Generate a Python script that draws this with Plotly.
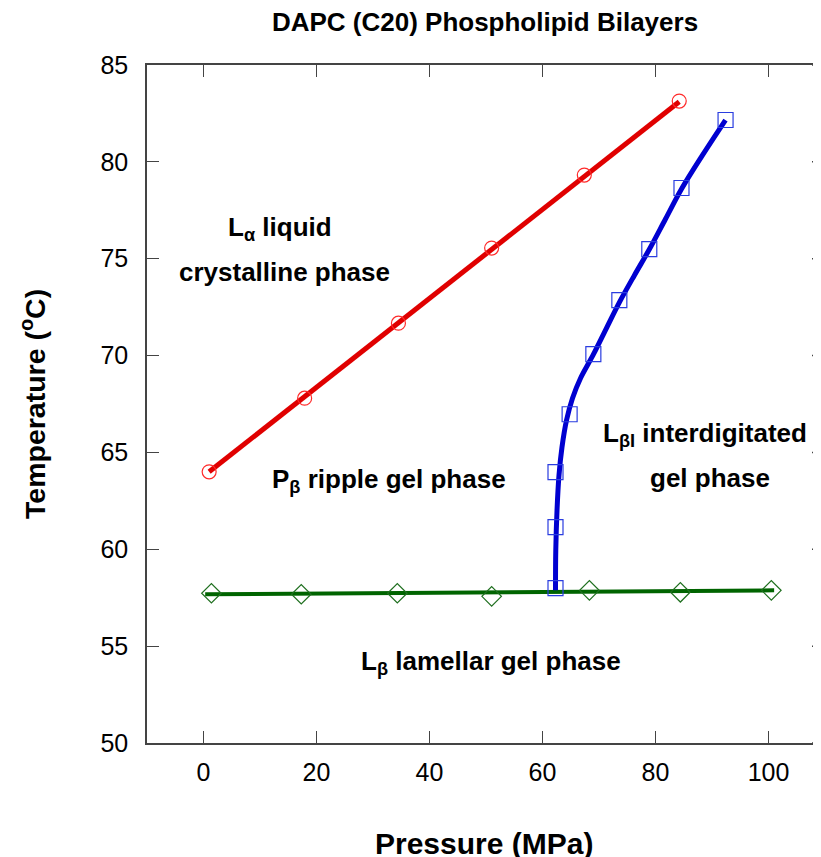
import plotly.graph_objects as go

# ---- data ----
# L_alpha -> P_beta transition (red circles)
red_p = [1.0, 17.9, 34.5, 51.0, 67.4, 84.2]
red_t = [64.0, 67.8, 71.67, 75.55, 79.32, 83.14]
red_fit_p = [1.0, 84.2]
red_fit_t = [64.0, 83.1]

# P_beta -> L_beta_I transition (blue squares)
blue_p = [62.3, 62.3, 62.3, 64.8, 69.0, 73.6, 78.9, 84.6, 92.4]
blue_t = [58.0, 61.14, 63.98, 66.97, 70.07, 72.86, 75.5, 78.65, 82.16]
blue_fit_p = [62.30, 62.35, 62.57, 62.92, 63.45, 64.25, 65.31, 66.73, 69.03, 71.33,
              73.63, 76.28, 78.94, 81.77, 84.60, 88.32, 92.39]
blue_fit_t = [57.88, 59.95, 62.01, 63.82, 65.27, 66.66, 67.80, 68.83, 70.07, 71.42,
              72.76, 74.15, 75.50, 77.05, 78.60, 80.35, 82.16]

# L_beta -> P_beta transition (green diamonds)
green_p = [1.4, 17.3, 34.3, 51.0, 68.3, 84.4, 100.5]
green_t = [57.73, 57.68, 57.73, 57.57, 57.88, 57.78, 57.88]
green_fit_p = [0.3, 101.0]
green_fit_t = [57.68, 57.88]

x_ticks = [0, 20, 40, 60, 80, 100]
y_ticks = [50, 55, 60, 65, 70, 75, 80, 85]

FONT = "Liberation Sans, Arial, sans-serif"

W, H = 813, 849
L, R, T, B = 139, 0, 57, 114
PW = W - L - R
PH = H - T - B

fig = go.Figure()

fig.add_trace(go.Scatter(x=green_fit_p, y=green_fit_t, mode="lines",
                         line=dict(color="#006400", width=4), showlegend=False))
fig.add_trace(go.Scatter(x=green_p, y=green_t, mode="markers",
                         marker=dict(symbol="diamond-open", size=15, color="#1f6f1f",
                                     line=dict(width=1.2, color="#1f6f1f")),
                         showlegend=False))

fig.add_trace(go.Scatter(x=red_fit_p, y=red_fit_t, mode="lines",
                         line=dict(color="#e00000", width=5), showlegend=False))
fig.add_trace(go.Scatter(x=red_p, y=red_t, mode="markers",
                         marker=dict(symbol="circle-open", size=14, color="#ff2a2a",
                                     line=dict(width=1.2, color="#ff2a2a")),
                         showlegend=False))

fig.add_trace(go.Scatter(x=blue_fit_p, y=blue_fit_t, mode="lines",
                         line=dict(color="#0000d0", width=5, shape="spline", smoothing=1.0),
                         showlegend=False))
fig.add_trace(go.Scatter(x=blue_p, y=blue_t, mode="markers",
                         marker=dict(symbol="square-open", size=15, color="#2a3de0",
                                     line=dict(width=1.2, color="#2a3de0")),
                         showlegend=False))

# mirrored y ticks on the right edge (the right frame line lies just outside the image)
for yt in y_ticks:
    fig.add_shape(type="line", xref="x domain", yref="y", x0=1 - 9 / PW, x1=1,
                  y0=yt, y1=yt, line=dict(color="#444444", width=1.5))

ann_font = dict(family=FONT, size=26, color="black")
annotations = [
    dict(x=13.6, y=76.58, text="<b>L<sub>α</sub> liquid</b>"),
    dict(x=14.3, y=74.31, text="<b>crystalline phase</b>"),
    dict(x=32.8, y=63.56, text="<b>P<sub>β</sub> ripple gel phase</b>"),
    dict(x=88.8, y=65.94, text="<b>L<sub>βI</sub> interdigitated</b>"),
    dict(x=89.6, y=63.67, text="<b>gel phase</b>"),
    dict(x=50.8, y=54.16, text="<b>L<sub>β</sub> lamellar gel phase</b>"),
]
for a in annotations:
    fig.add_annotation(xref="x", yref="y", showarrow=False, font=ann_font,
                       xanchor="center", yanchor="middle", **a)

# axis titles
fig.add_annotation(xref="paper", yref="paper", x=(476 - L) / PW, y=-100 / PH,
                   text="<b>Pressure (MPa)</b>", showarrow=False,
                   font=dict(family=FONT, size=30, color="black"),
                   xanchor="center", yanchor="middle")
fig.add_annotation(xref="paper", yref="paper", x=(25 - L) / PW, y=0.5,
                   text="<b>Temperature (<sup>o</sup>C)</b>", showarrow=False,
                   textangle=-90,
                   font=dict(family=FONT, size=28.5, color="black"),
                   xanchor="center", yanchor="middle")

fig.update_layout(
    width=W, height=H,
    margin=dict(l=L, r=R, t=T, b=B, autoexpand=False),
    paper_bgcolor="white", plot_bgcolor="white",
    title=dict(text="<b>DAPC (C20) Phospholipid Bilayers</b>",
               x=477 / W, xanchor="center",
               y=1 - 14 / H, yanchor="middle", yref="container",
               font=dict(family=FONT, size=26, color="black")),
    font=dict(family=FONT, color="black"),
    xaxis=dict(range=[-10, -10 + PW / 5.65], tickvals=x_ticks,
               ticktext=[str(v) for v in x_ticks],
               ticks="inside", ticklen=12, tickwidth=1.2, tickcolor="#444444",
               showline=True, linecolor="#444444", linewidth=1.5, mirror="ticks",
               showgrid=False, zeroline=False,
               tickfont=dict(family=FONT, size=25, color="black"),
               ticklabelstandoff=6),
    yaxis=dict(range=[50, 85], tickvals=y_ticks, ticktext=[str(v) for v in y_ticks],
               ticks="inside", ticklen=12, tickwidth=1.2, tickcolor="#444444",
               showline=True, linecolor="#444444", linewidth=1.5, mirror=False,
               showgrid=False, zeroline=False,
               tickfont=dict(family=FONT, size=25, color="black"),
               ticklabelstandoff=12),
)

fig.write_html("out.html")
